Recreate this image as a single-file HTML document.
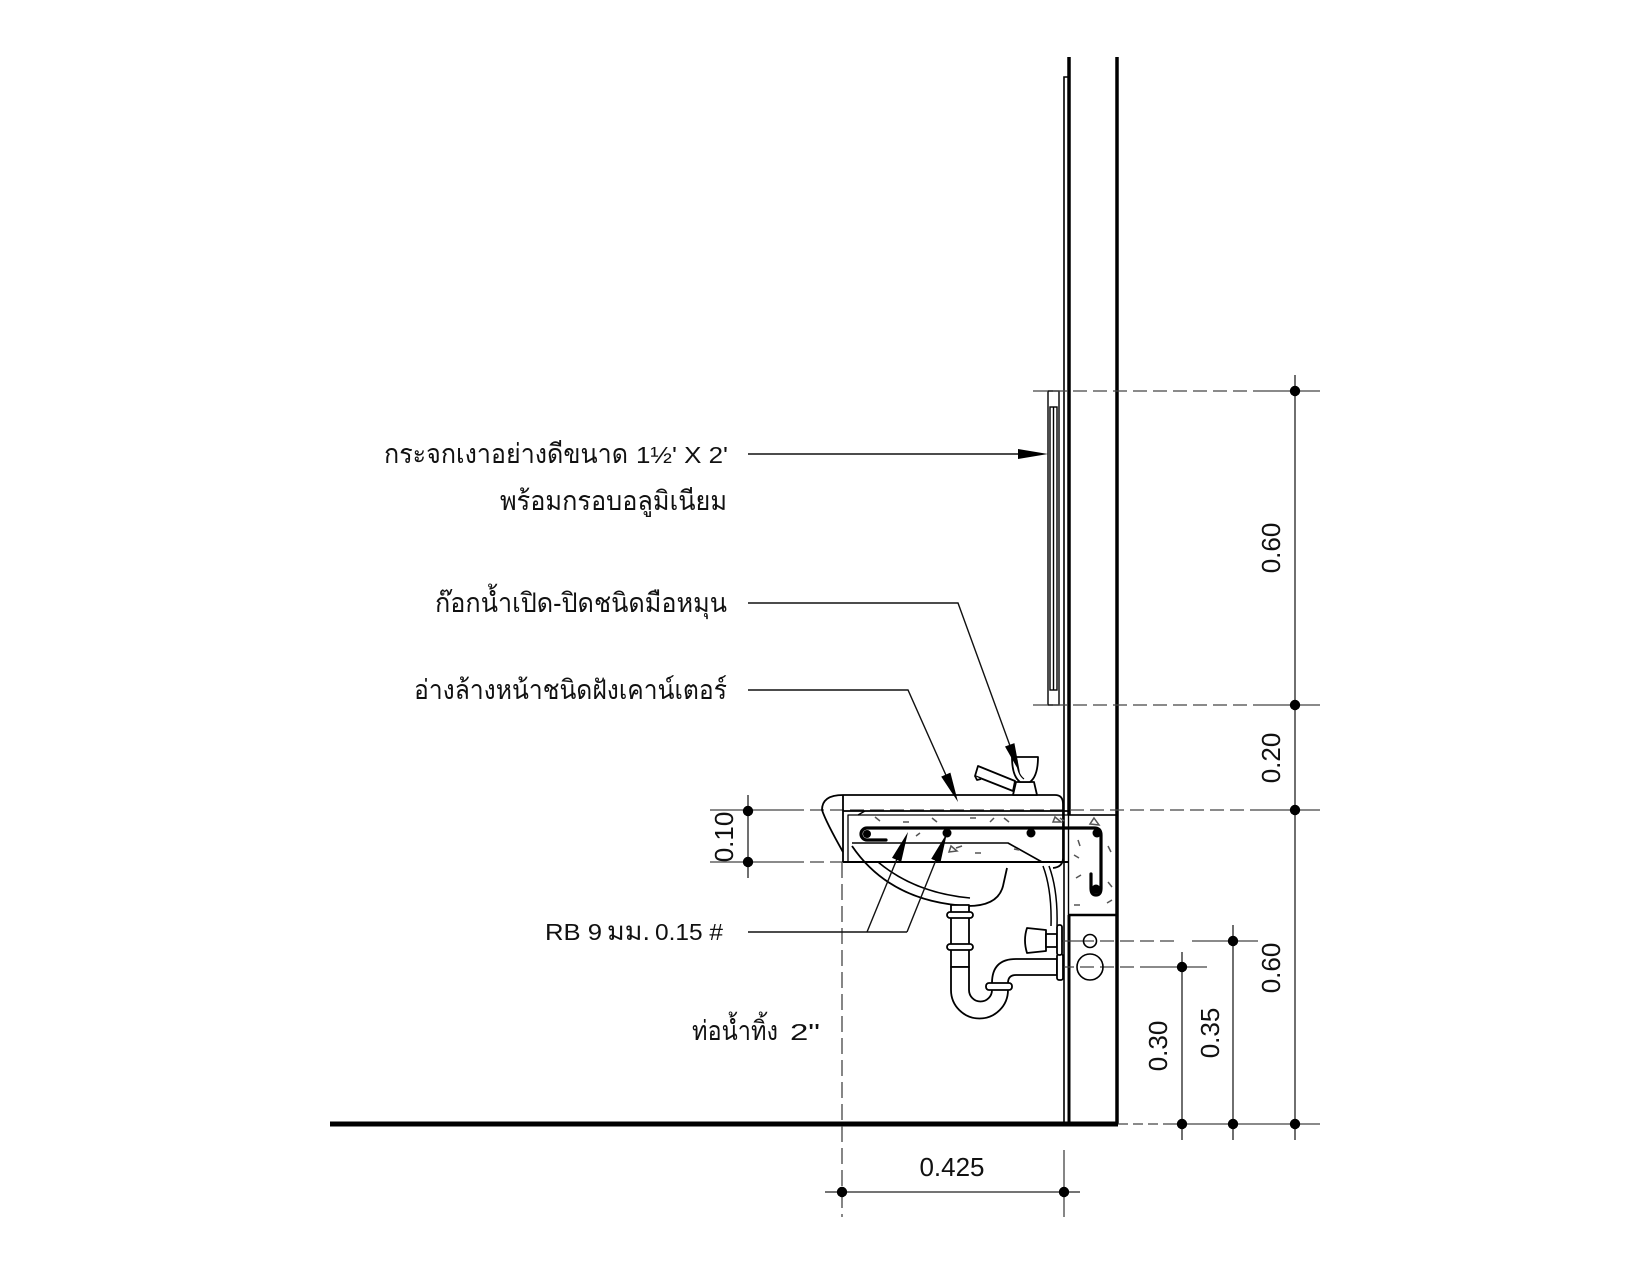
<!DOCTYPE html>
<html><head><meta charset="utf-8"><style>
html,body{margin:0;padding:0;background:#fff;}
svg{display:block;}
.t{font-family:"Liberation Sans","DejaVu Sans",sans-serif;fill:#111;}
</style></head><body>
<svg width="1650" height="1275" viewBox="0 0 1650 1275" xmlns="http://www.w3.org/2000/svg">
<rect width="1650" height="1275" fill="#fff"/>

<!-- ===== WALL ===== -->
<g stroke="#000" fill="none" stroke-linecap="butt">
  <line x1="1069" y1="57" x2="1069" y2="815" stroke-width="3.5"/>
  <line x1="1117" y1="57" x2="1117" y2="1124" stroke-width="3.5"/>
  <path d="M1069,77 L1064,77 L1064,1124" stroke-width="1.6"/>
  <line x1="1068.5" y1="815" x2="1068.5" y2="915" stroke-width="1.4"/>
  <line x1="1069" y1="915" x2="1069" y2="1124" stroke-width="3"/>
  <line x1="1068" y1="815" x2="1117" y2="815" stroke-width="1.4"/>
  <line x1="1068" y1="915" x2="1117" y2="915" stroke-width="2.5"/>
</g>

<!-- floor -->
<line x1="330" y1="1124" x2="1118" y2="1124" stroke="#000" stroke-width="5"/>

<!-- ===== MIRROR ===== -->
<g stroke="#000" fill="#fff" stroke-width="1.4">
  <rect x="1048" y="391" width="11" height="314"/>
  <rect x="1050" y="407" width="7" height="283"/>
  <line x1="1053.5" y1="407" x2="1053.5" y2="690"/>
</g>

<!-- ===== EXTENSION LINES (dashed) ===== -->
<g stroke="#444" stroke-width="1.3" fill="none">
  <line x1="1033" y1="391" x2="1253" y2="391" stroke-dasharray="14 6"/>
  <line x1="1253" y1="391" x2="1320" y2="391"/>
  <line x1="1033" y1="705" x2="1253" y2="705" stroke-dasharray="14 6"/>
  <line x1="1253" y1="705" x2="1320" y2="705"/>
  <line x1="790" y1="810" x2="1253" y2="810" stroke-dasharray="14 6"/>
  <line x1="710" y1="810" x2="790" y2="810"/>
  <line x1="1253" y1="810" x2="1320" y2="810"/>
  <line x1="790" y1="862" x2="843" y2="862" stroke-dasharray="14 6"/>
  <line x1="710" y1="862" x2="790" y2="862"/>
  <line x1="1035" y1="941" x2="1080" y2="941"/>
  <line x1="1080" y1="941" x2="1180" y2="941" stroke-dasharray="14 6"/>
  <line x1="1192" y1="941" x2="1258" y2="941"/>
  <line x1="1060" y1="967" x2="1140" y2="967" stroke-dasharray="14 6"/>
  <line x1="1140" y1="967" x2="1207" y2="967"/>
  <line x1="1118" y1="1124" x2="1170" y2="1124" stroke-dasharray="10 5"/>
  <line x1="1170" y1="1124" x2="1320" y2="1124"/>
  <line x1="842" y1="862" x2="842" y2="1217" stroke-dasharray="16 6"/>
  <line x1="1064" y1="1150" x2="1064" y2="1217"/>
</g>

<!-- ===== DIMENSION LINES ===== -->
<g stroke="#222" stroke-width="1.3">
  <line x1="1295" y1="375" x2="1295" y2="1140"/>
  <line x1="1233" y1="925" x2="1233" y2="1140"/>
  <line x1="1182" y1="952" x2="1182" y2="1140"/>
  <line x1="748" y1="795" x2="748" y2="878"/>
  <line x1="825" y1="1192" x2="1080" y2="1192"/>
</g>
<g fill="#000">
  <circle cx="1295" cy="391" r="5.2"/>
  <circle cx="1295" cy="705" r="5.2"/>
  <circle cx="1295" cy="810" r="5.2"/>
  <circle cx="1295" cy="1124" r="5.2"/>
  <circle cx="1233" cy="941" r="5.2"/>
  <circle cx="1233" cy="1124" r="5.2"/>
  <circle cx="1182" cy="967" r="5.2"/>
  <circle cx="1182" cy="1124" r="5.2"/>
  <circle cx="748" cy="811" r="5.2"/>
  <circle cx="748" cy="862" r="5.2"/>
  <circle cx="842" cy="1192" r="5.2"/>
  <circle cx="1064" cy="1192" r="5.2"/>
</g>

<!-- dimension texts -->
<g class="t" font-size="26" text-anchor="middle">
  <text transform="translate(1280,548) rotate(-90)">0.60</text>
  <text transform="translate(1280,758) rotate(-90)">0.20</text>
  <text transform="translate(1280,968) rotate(-90)">0.60</text>
  <text transform="translate(1219,1033) rotate(-90)">0.35</text>
  <text transform="translate(1167,1046) rotate(-90)">0.30</text>
  <text transform="translate(733,837) rotate(-90)">0.10</text>
  <text x="952" y="1176">0.425</text>
</g>

<!-- ===== SINK / COUNTER ===== -->
<g stroke="#000" fill="none" stroke-width="1.8" stroke-linejoin="round">
  <path d="M843,795 L1055,795 Q1063,795 1063,804 L1063,858 Q1063,867 1053,868"/>
  <path d="M843,795 Q822,795 822,810 Q826,822 843,852"/>
  <line x1="843" y1="795" x2="843" y2="862"/>
  <line x1="843" y1="811" x2="1068" y2="811"/>
  <path d="M848,862 L848,815 L858,815 L865,811" stroke-width="1.3"/>
  <line x1="858" y1="815" x2="1117" y2="815" stroke-width="1.2"/>
  <line x1="843" y1="862" x2="1068" y2="862" stroke-width="2"/>
  <path d="M852,843 L1008,843 L1042,862" stroke-width="1.6"/>
  <path d="M852,846 Q890,902 968,906 Q998,906 1003,886 L1007,868" stroke-width="1.8"/>
  <path d="M878,862 Q915,893 970,898" stroke-width="1.6"/>
  <path d="M1043,866 Q1052,890 1051,926" stroke-width="1.5"/>
  <path d="M1049,866 Q1058,890 1057,926" stroke-width="1.5"/>
</g>

<!-- rebar -->
<g stroke="#000" fill="none" stroke-width="3.2" stroke-linecap="round" stroke-linejoin="round">
  <path d="M886,840 L867,840 A6,6 0 0 1 867,828 L1094,828 Q1101,828 1101,835 L1101,888 Q1101,895 1096,895 Q1091,895 1091,888 L1091,874"/>
</g>
<g fill="#000">
  <circle cx="867" cy="834" r="4"/>
  <circle cx="947" cy="833" r="4.5"/>
  <circle cx="1031" cy="833" r="4.5"/>
  <circle cx="1097" cy="833" r="4.5"/>
  <circle cx="1096" cy="889" r="4.5"/>
</g>

<!-- concrete hatch marks -->
<g stroke="#555" stroke-width="1.5" fill="none">
  <line x1="875" y1="817" x2="880" y2="821"/>
  <line x1="903" y1="822" x2="909" y2="822"/>
  <line x1="932" y1="818" x2="937" y2="822"/>
  <line x1="916" y1="836" x2="920" y2="833"/>
  <line x1="970" y1="818" x2="976" y2="818"/>
  <line x1="990" y1="822" x2="994" y2="818"/>
  <line x1="1004" y1="818" x2="1009" y2="822"/>
  <line x1="1060" y1="818" x2="1064" y2="821"/>
  <line x1="975" y1="853" x2="981" y2="853"/>
  <line x1="1014" y1="849" x2="1019" y2="850"/>
  <line x1="956" y1="848" x2="962" y2="846"/>
  <path d="M951,846 L957,851 L949,852 Z"/>
  <path d="M1055,817 L1061,822 L1053,822 Z"/>
  <path d="M1094,818 L1099,825 L1090,824 Z"/>
  <line x1="1078" y1="840" x2="1080" y2="846"/>
  <line x1="1074" y1="855" x2="1079" y2="858"/>
  <line x1="1108" y1="846" x2="1111" y2="852"/>
  <line x1="1076" y1="878" x2="1081" y2="875"/>
  <line x1="1108" y1="882" x2="1112" y2="887"/>
  <line x1="1074" y1="905" x2="1080" y2="905"/>
  <line x1="1107" y1="903" x2="1112" y2="900"/>
</g>

<!-- faucet -->
<g stroke="#000" fill="#fff" stroke-width="1.8" stroke-linejoin="round">
  <path d="M978,766 L1015,781 L1013,791 L975,776 Z"/>
  <path d="M975,776 L977,780 L981,779"/>
  <path d="M1016,782 L1034,782 L1037,795 L1013,795 Z"/>
  <path d="M1012,757 L1038,757 Q1038,776 1030,782 L1020,782 Q1012,776 1012,757 Z"/>
  <path d="M1017,760 Q1017,774 1024,779" fill="none" stroke-width="1.2"/>
</g>

<!-- P-trap -->
<g stroke="#000" fill="#fff" stroke-width="1.8" stroke-linejoin="round">
  <rect x="951" y="905" width="18" height="62"/>
  <rect x="947" y="912" width="26" height="6" rx="3"/>
  <rect x="947" y="944" width="26" height="6" rx="3"/>
  <path d="M951,967 L951,990 A28.5,28.5 0 0 0 1008,990 L1008,983 Q1008,975 1016,975 L1057,975 L1057,959 L1016,959 Q992,959 992,983 L992,990 A11.5,11.5 0 0 1 969,990 L969,967 Z"/>
  <rect x="986" y="983" width="26" height="7" rx="3"/>
  <rect x="1057" y="954" width="6" height="26" rx="2"/>
  <path d="M1027,928 L1046,930 L1046,951 L1027,953 Q1023,940 1027,928 Z"/>
  <rect x="1046" y="934" width="11" height="13"/>
  <rect x="1057" y="925" width="5" height="30" rx="2"/>
</g>
<g stroke="#000" fill="none" stroke-width="1.6">
  <circle cx="1090" cy="941" r="6.5"/>
  <circle cx="1090" cy="967" r="13"/>
</g>

<!-- ===== LEADERS ===== -->
<g stroke="#111" stroke-width="1.4" fill="none">
  <line x1="748" y1="454" x2="1030" y2="454"/>
  <polyline points="748,603 958,603 1013,754"/>
  <polyline points="748,690 908,690 949,782"/>
  <line x1="748" y1="932" x2="907" y2="932"/>
  <line x1="867" y1="932" x2="899" y2="854"/>
  <line x1="907" y1="932" x2="938" y2="855"/>
</g>
<g fill="#000">
  <polygon points="1048,454 1018,449 1018,459"/>
  <polygon points="1020,773 1005,746.5 1014.4,743.1"/>
  <polygon points="958,802 941.2,776.6 950.4,772.6"/>
  <polygon points="908,832 901.2,861.7 892,857.9"/>
  <polygon points="947,833 940.4,862.7 931.2,858.9"/>
</g>

<!-- ===== LABELS ===== -->
<g class="t">
  <text x="384" y="463" font-size="27" textLength="244" lengthAdjust="spacingAndGlyphs">กระจกเงาอย่างดีขนาด</text>
  <text x="636" y="463" font-size="23" textLength="92" lengthAdjust="spacingAndGlyphs">1½' X 2'</text>
  <text x="500" y="510" font-size="27" textLength="227" lengthAdjust="spacingAndGlyphs">พร้อมกรอบอลูมิเนียม</text>
  <text x="435" y="612" font-size="27" textLength="292" lengthAdjust="spacingAndGlyphs">ก๊อกน้ำเปิด-ปิดชนิดมือหมุน</text>
  <text x="414" y="699" font-size="27" textLength="313" lengthAdjust="spacingAndGlyphs">อ่างล้างหน้าชนิดฝังเคาน์เตอร์</text>
  <text x="545" y="940" font-size="23" textLength="57" lengthAdjust="spacingAndGlyphs">RB 9</text>
  <text x="607" y="940" font-size="26" textLength="43" lengthAdjust="spacingAndGlyphs">มม.</text>
  <text x="655" y="940" font-size="23" textLength="68" lengthAdjust="spacingAndGlyphs">0.15 #</text>
  <text x="692" y="1040" font-size="27" textLength="86" lengthAdjust="spacingAndGlyphs">ท่อน้ำทิ้ง</text>
  <text x="790" y="1040" font-size="23" textLength="30" lengthAdjust="spacingAndGlyphs">2"</text>
</g>
</svg>
</body></html>
